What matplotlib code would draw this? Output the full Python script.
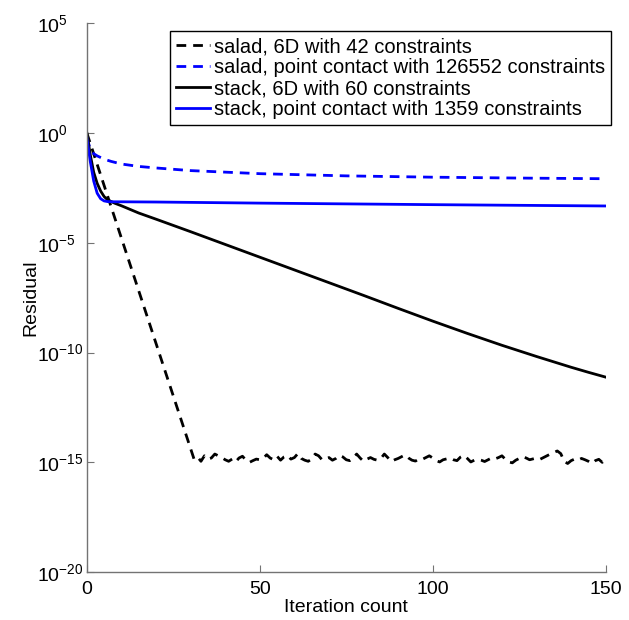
import matplotlib
matplotlib.use("Agg")
import matplotlib.pyplot as plt
import numpy as np

plt.rcParams['font.family'] = ['Liberation Sans', 'DejaVu Sans']
plt.rcParams['mathtext.fontset'] = 'custom'
plt.rcParams['mathtext.rm'] = 'Liberation Sans'
plt.rcParams['mathtext.it'] = 'Liberation Sans'

# salad, 6D: straight drop then noise floor (log10 of residual)
salad6d_x = [0, 31]
salad6d_y = [0.0, -14.85]
salad6d_noise = [
    -14.75, -14.95, -14.70, -14.85, -14.80, -14.62, -14.70, -14.78, -14.88, -14.95,
    -14.85, -14.98, -14.80, -14.72, -14.90, -15.00, -14.92, -14.85, -14.88, -14.82,
    -14.65, -14.80, -14.88, -14.72, -14.90, -14.75, -14.68, -14.85, -14.78, -14.60,
    -14.82, -14.90, -14.95, -14.85, -14.62, -14.70, -14.88, -14.85, -14.78, -14.90,
    -14.82, -14.68, -14.75, -14.88, -14.92, -14.80, -14.62, -14.80, -14.95, -14.85,
    -14.78, -14.86, -14.90, -14.82, -14.62, -14.78, -14.96, -14.88, -14.82, -14.74,
    -14.66, -14.80, -14.90, -14.94, -14.84, -14.86, -14.78, -14.70, -14.80, -14.92,
    -14.98, -14.88, -14.84, -14.80, -14.88, -14.92, -14.76, -14.68, -14.82, -14.98,
    -14.90, -14.86, -14.90, -14.96, -14.88, -14.80, -14.84, -14.78, -14.70, -14.86,
    -14.98, -15.02, -14.90, -14.82, -14.74, -14.80, -14.88, -14.84, -14.80, -14.86,
    -14.78, -14.70, -14.62, -14.55, -14.48, -14.60, -14.95, -15.05, -14.92, -14.85,
    -14.90, -14.82, -14.88, -14.95, -15.05, -14.92, -14.86, -15.00, -14.80,
]

# salad, point contact
saladpc_x = [0, 1, 2, 3, 5, 7, 10, 15, 20, 30, 50, 75, 100, 125, 150]
saladpc_y = [-0.2, -0.75, -0.95, -1.05, -1.2, -1.3, -1.42, -1.53, -1.6, -1.72,
             -1.86, -1.96, -2.02, -2.06, -2.09]

# stack, 6D
stack6d_x = [0, 1, 2, 3, 4, 5, 6, 8, 10, 15, 20, 30, 40, 50, 60, 70, 80, 90,
             100, 110, 120, 130, 140, 145, 150]
stack6d_y = [0.0, -1.0, -1.8, -2.3, -2.65, -2.9, -3.05, -3.2, -3.32, -3.65, -3.93,
             -4.5, -5.08, -5.66, -6.24, -6.82, -7.4, -7.99, -8.57, -9.13, -9.67,
             -10.18, -10.67, -10.9, -11.12]

# stack, point contact
stackpc_x = [0, 1, 2, 3, 4, 5, 6, 8, 10, 20, 50, 100, 150]
stackpc_y = [-0.2, -1.3, -2.2, -2.75, -3.0, -3.1, -3.13, -3.14, -3.14, -3.15,
             -3.2, -3.27, -3.33]

labels = ['salad, 6D with 42 constraints',
          'salad, point contact with 126552 constraints',
          'stack, 6D with 60 constraints',
          'stack, point contact with 1359 constraints']

x1 = salad6d_x + list(range(32, 32 + len(salad6d_noise)))
y1 = salad6d_y + salad6d_noise

fig = plt.figure(figsize=(6.29, 6.20), dpi=100)
ax = fig.add_axes([0.138, 0.077, 0.825, 0.886])

lw = 2.0
ax.plot(x1, 10.0 ** np.array(y1), color='k', lw=lw, ls=(0, (3.5, 2.5)), label=labels[0])
ax.plot(saladpc_x, 10.0 ** np.array(saladpc_y), color='#0000ff', lw=lw, ls=(0, (3.5, 2.5)), label=labels[1])
ax.plot(stack6d_x, 10.0 ** np.array(stack6d_y), color='k', lw=lw, label=labels[2])
ax.plot(stackpc_x, 10.0 ** np.array(stackpc_y), color='#0000ff', lw=lw, label=labels[3])

ax.set_yscale('log')
ax.set_xlim(0, 150)
ax.set_ylim(1e-20, 1e5)
ax.set_xticks([0, 50, 100, 150])
ax.set_yticks([10.0 ** k for k in range(-20, 6, 5)])
ax.yaxis.set_minor_locator(matplotlib.ticker.NullLocator())

for s in ['top', 'right']:
    ax.spines[s].set_visible(False)
for s in ['left', 'bottom']:
    ax.spines[s].set_color('0.45')
    ax.spines[s].set_linewidth(1.0)
ax.tick_params(direction='in', length=5, color='0.45', labelsize=14, pad=6)
# MATLAB-style: the "10" bases line up on the left
ax.tick_params(axis='y', pad=36)
for t in ax.get_yticklabels():
    t.set_horizontalalignment('left')

ax.set_xlabel('Iteration count', fontsize=14, labelpad=1)
ax.set_ylabel('Residual', fontsize=14, labelpad=-2)

leg = ax.legend(loc='upper right', bbox_to_anchor=(1.01, 0.985), fontsize=14.5,
                fancybox=False, framealpha=1, edgecolor='k', handlelength=1.65,
                handletextpad=0.2, borderpad=0.3, labelspacing=0.1, borderaxespad=0)
leg.get_frame().set_linewidth(1.0)

fig.savefig('out.png', dpi=100)
